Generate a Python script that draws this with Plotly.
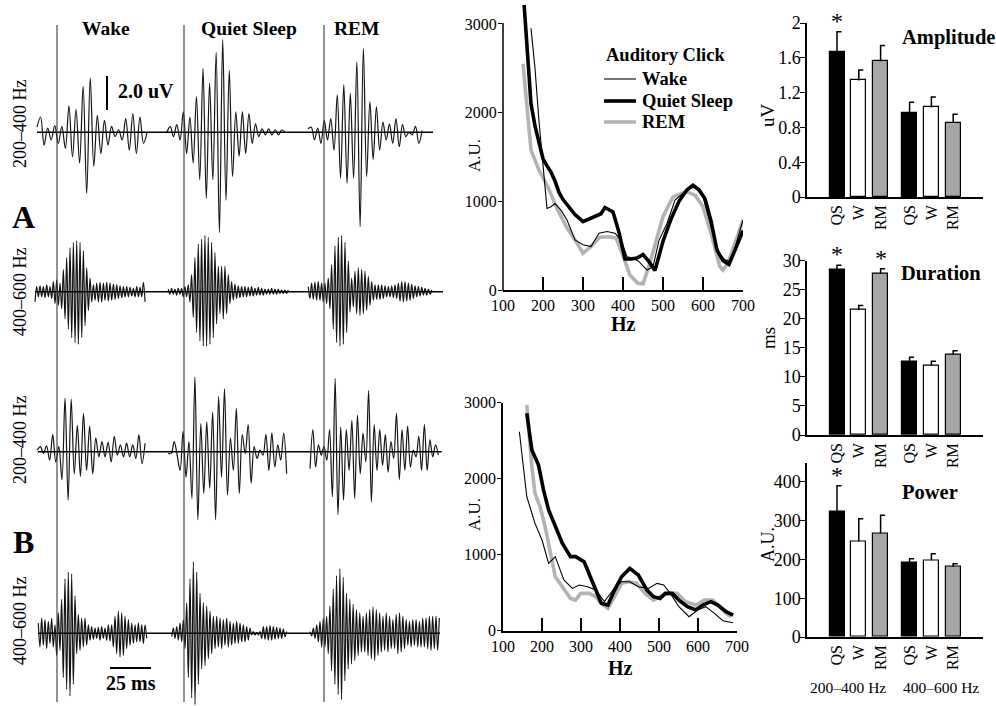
import numpy as np
import plotly.graph_objects as go

W, H = 996, 706
SERIF = "Liberation Serif"
INK = "#141414"
GRAY_LINE = "#b3b3b3"
GRAY_BAR = "#a6a6a6"


def fx(p):
    """horizontal pixel -> paper fraction"""
    return p / W


def fy(p):
    """vertical pixel -> paper fraction"""
    return 1 - p / H


# ---------------------------------------------------------------------------
# Click-evoked oscillations: successive extrema (uV), evenly spaced in each
# recording window.  Windows are in ms relative to click onset.
# ---------------------------------------------------------------------------
STATES = ["Wake", "Quiet Sleep", "REM"]
ROW_BANDS = ["200–400 Hz", "400–600 Hz", "200–400 Hz", "400–600 Hz"]

A_LOW_WAKE = [0.3, 0.9, -0.75, 0.25, -0.45, 0.4, -0.65, 0.35, -0.95, 1.55, -1.45, 1.35,
              -1.8, 2.7, -3.6, 3.2, -2.0, 1.0, -1.25, 0.7, -0.75, 0.35, -0.25, 0.15,
              -0.45, 0.8, -1.05, 1.1, -1.25, 0.9, -0.65, 0.0]
A_LOW_QS = [0.0, 0.35, -0.25, 0.45, -0.45, 1.2, -1.25, 0.9, -1.8, 2.1, -2.8, 3.75, -3.9,
            2.9, -2.8, 4.7, -5.9, 5.45, -4.0, 3.65, -2.6, 1.2, -1.4, 1.2, -1.25, 1.1,
            -0.65, 0.5, -0.25, 0.2, -0.15, 0.2, -0.15, 0.15, -0.15, 0.15, 0.0]
A_LOW_REM = [0.2, 0.3, -0.45, 0.25, -0.65, 0.7, -0.45, 0.8, -1.05, 2.2, -2.7, 2.8, -3.0,
             2.3, -2.7, 4.15, -5.55, 4.95, -2.6, 1.8, -1.6, 1.5, -1.05, 0.6, -0.45, 0.5,
             -0.65, 0.8, -0.85, 0.45, -0.25, 0.0, -0.15, 0.35, -0.65, 0.1]

A_HIGH_WAKE = [-0.6, 0.3, -0.3, 0.35, -0.3, 0.3, -0.35, 0.4, -0.3, 0.3, -0.4, 0.6, -0.7,
               0.7, -0.8, 0.5,
               -1.0, 1.3, -1.6, 2.0, -2.2, 2.6, -2.7, 2.9, -3.0, 3.0, -3.1, 2.9, -2.7, 2.4,
               -2.0, 1.4,
               -1.1, 0.8, -0.6, 0.4,
               -0.5, 0.5, -0.6, 0.55, -0.6, 0.5, -0.5, 0.55, -0.55, 0.5, -0.5, 0.45, -0.45,
               0.4, -0.4,
               0.35, -0.35, 0.3, -0.3, 0.3, -0.3, 0.25, -0.25, 0.2, -0.3, 0.3, -0.3, 0.25,
               -0.3, 0.55, -0.6]
A_HIGH_QS = [0.15, -0.15, 0.2, -0.15, 0.15, -0.2, 0.2, -0.15, 0.2, -0.3,
             0.3, -0.3, 0.4, -0.6,
             1.0, -1.5, 2.0, -2.4, 2.8, -2.9, 3.1, -3.2, 3.3, -3.2, 3.2, -3.1, 2.9, -2.7,
             2.3, -1.9, 1.5,
             -1.3, 1.5, -1.6, 1.5, -1.3, 1.0, -0.7,
             0.6, -0.5, 0.45, -0.4, 0.35, -0.35, 0.3, -0.3, 0.3, -0.3, 0.25, -0.25, 0.3,
             -0.25, 0.2, -0.2, 0.25, -0.2, 0.2, -0.2, 0.15, -0.15, 0.15, -0.15, 0.2, -0.15,
             0.15, -0.15, 0.15, -0.1, 0.1, -0.1, 0.1, -0.1, 0.1]
A_HIGH_REM = [0.3, -0.4, 0.5, -0.45, 0.55, -0.5, 0.6, -0.5, 0.5, -0.6,
              0.5, -0.7, 0.8, -1.0,
              1.6, -2.2, 2.7, -3.0, 3.2, -3.2, 3.3, -3.1, 2.9, -2.4, 1.8, -1.2, 0.8,
              -0.9, 1.2, -1.3, 1.4, -1.4, 1.3, -1.3, 1.2, -1.1, 0.9, -0.8, 0.6, -0.5, 0.4,
              -0.45, 0.4, -0.45, 0.4, -0.4, 0.35, -0.3, 0.3, -0.3, 0.35, -0.35, 0.4, -0.4,
              0.5, -0.55, 0.6, -0.6, 0.6, -0.55, 0.5, -0.5, 0.45, -0.4, 0.35,
              -0.3, 0.3, -0.25, 0.25, -0.2, 0.2, -0.2, 0.15, -0.15, 0.1]

B_LOW_WAKE = [0.1, 0.3, -0.1, 0.35, -0.5, 1.0, -0.6, 0.3, -1.65, 3.15, -2.85, 3.1, -1.3,
              1.55, -1.45, 2.25, -1.1, 1.5, -1.3, 0.8, -0.3, 0.6, -0.3, 0.55, -0.6, 0.9,
              -0.2, 0.4, -0.3, 0.5, -0.3, 0.4, -0.4, 1.0, -0.7, 0.5]
B_LOW_QS = [-0.1, -0.1, 0.6, -0.2, -1.1, 1.2, -1.5, 0.6, -2.75, 4.4, -4.0, 1.65, -2.45,
            1.75, -2.15, 2.35, -4.0, 3.25, -1.5, 3.7, -2.55, 0.8, -1.1, 2.55, -2.45, 1.0,
            -0.1, 1.6, -1.85, 0.3, -0.4, 0.1, -0.2, 1.0, -1.1, 1.1, -0.9, 0.4, -0.5, 1.1,
            -1.3]
B_LOW_REM = [-1.0, 1.3, -0.9, 0.4, -0.2, 0.3, -0.5, 1.3, -2.65, 4.3, -3.7, 1.45, -2.85,
             1.3, -1.1, 1.85, -2.75, 2.15, -1.3, 1.1, -0.6, 3.6, -2.95, 1.6, -1.1, 1.3,
             -0.8, 1.0, -1.2, 0.6, -0.4, 2.25, -1.65, 1.3, -1.1, 1.5, -0.9, 0.1, -0.3, 0.9,
             -1.1, 1.6, -1.1, 0.7, -0.3, 0.4, -0.2]

B_HIGH_WAKE = [0.6, -0.8, 0.9, -0.7, 0.8, -0.9, 0.7, -0.6, 0.9, -0.8, 0.5,
               -1.3, 1.2, -1.0,
               2.0, -2.6, 3.2, -3.3, 3.6, -3.7, 3.5, -3.0, 2.2,
               -1.2, 1.1, -1.0, 0.9, -0.8, 0.9, -0.7,
               0.5, -0.4, 0.4, -0.35, 0.3, -0.3, 0.35, -0.4, 0.4, -0.3, 0.3, -0.4, 0.5,
               -0.45, 0.5,
               -0.8, 1.0, -1.2, 1.3, -1.4, 1.2, -1.3, 1.0, -0.9, 0.8, -0.7,
               0.6, -0.6, 0.5, -0.5, 0.6, -0.5, 0.5, -0.6, 0.5, -0.3]
B_HIGH_QS = [-0.2, 0.3, -0.3, 0.4, -0.4, 0.6, -0.5, 0.8, -0.9,
             1.8, -2.6, 3.2, -3.8, 4.2, -4.2, 3.6, -3.0,
             2.35, -2.1, 1.8, -1.9, 1.6, -1.5, 1.3, -1.2,
             1.0, -0.9, 1.0, -0.8, 0.9, -0.9, 0.8, -0.7, 0.9, -0.8, 0.7, -0.7, 0.6, -0.6,
             0.7,
             -0.6, 0.6, -0.5, 0.5, -0.5, 0.4, -0.4, 0.3,
             -0.1, 0.1, -0.1, 0.05, -0.1, 0.1,
             -0.3, 0.4, -0.35, 0.4, -0.4, 0.45, -0.4, 0.4, -0.35, 0.35, -0.3, 0.3, -0.3,
             0.25, -0.2, 0.1]
B_HIGH_REM = [0.1, -0.15, 0.3, -0.3, 0.5, -0.5, 0.7, -0.8, 0.9, -0.8, 1.0, -1.2,
              1.6, -2.2, 2.6, -3.0, 3.4, -3.6, 3.8, -3.9, 3.3, -2.8,
              2.35, -2.1, 2.0, -1.8, 1.7, -1.6, 1.4, -1.3, 1.2, -1.1,
              1.0, -1.1, 1.2, -1.3, 1.4, -1.5, 1.55, -1.6, 1.4, -1.3, 1.2, -1.1, 1.0, -1.0,
              1.2, -1.1, 1.0, -0.9, 0.8,
              -0.9, 1.1, -1.2, 1.2, -1.1, 1.0, -0.9, 0.8,
              -0.7, 0.7, -0.8, 0.8, -0.7, 0.8, -0.8, 0.7, -0.8, 0.9, -0.8, 0.9, -0.9, 1.0,
              -1.0, 1.0, -0.9, 1.0, -1.0, 0.9]

ROW_TRACES = [
    [A_LOW_WAKE, A_LOW_QS, A_LOW_REM],
    [A_HIGH_WAKE, A_HIGH_QS, A_HIGH_REM],
    [B_LOW_WAKE, B_LOW_QS, B_LOW_REM],
    [B_HIGH_WAKE, B_HIGH_QS, B_HIGH_REM],
]
ROW_WINDOWS = [
    [(-12.2, 54.9), (-10.4, 61.6), (-9.8, 59.8)],
    [(-13.4, 53.7), (-9.6, 63.6), (-9.6, 65.7)],
    [(-12.0, 53.7), (-9.6, 62.6), (-8.5, 69.7)],
    [(-11.4, 54.7), (-7.5, 62.6), (-8.5, 70.3)],
]

# ---------------------------------------------------------------------------
# Power spectra (A.U.) of the click response
# ---------------------------------------------------------------------------
A_WAKE_HZ = [170, 180, 190, 200, 210, 220, 230, 245, 260, 280, 300, 320, 340, 360, 380,
             395, 410, 425, 440, 460, 475, 490, 510, 530, 560, 580, 600, 620, 640, 655,
             670, 700]
A_WAKE_PWR = [2950, 2500, 1900, 1400, 920, 940, 975, 900, 790, 565, 510, 490, 640, 660,
              640, 560, 375, 360, 320, 225, 260, 560, 750, 1015, 1130, 1165, 1050, 720,
              410, 340, 320, 790]
A_QS_HZ = [150, 160, 170, 180, 190, 200, 210, 220, 230, 240, 250, 265, 280, 300, 315, 330,
           345, 355, 375, 390, 405, 420, 435, 450, 465, 480, 500, 520, 540, 560, 575, 590,
           605, 620, 635, 650, 665, 680, 700]
A_QS_PWR = [3400, 2700, 2100, 1850, 1650, 1480, 1400, 1330, 1230, 1100, 1020, 930, 850,
            770, 800, 820, 860, 930, 880, 650, 350, 350, 360, 400, 320, 220, 550, 800,
            1000, 1130, 1180, 1130, 1030, 780, 450, 330, 290, 450, 670]
A_REM_HZ = [150, 170, 190, 212, 233, 258, 280, 300, 320, 342, 363, 383, 404, 417, 437,
            450, 467, 483, 500, 525, 558, 580, 600, 620, 642, 650, 662, 683, 700]
A_REM_PWR = [2550, 1580, 1350, 1165, 940, 715, 565, 415, 490, 595, 600, 585, 340, 170,
             75, 70, 300, 565, 830, 1050, 1110, 1070, 940, 640, 265, 225, 300, 565, 790]

B_WAKE_HZ = [142, 161, 182, 200, 217, 234, 256, 278, 295, 317, 338, 360, 382, 404, 425,
             447, 473, 495, 512, 529, 551, 577, 599, 620, 642, 664, 690]
B_WAKE_PWR = [2618, 1763, 1412, 1193, 886, 974, 667, 557, 601, 579, 535, 382, 535, 645,
              645, 579, 557, 623, 601, 491, 316, 184, 272, 316, 228, 132, 105]
B_QS_HZ = [161, 174, 191, 204, 217, 234, 252, 273, 286, 308, 321, 338, 352, 369, 386, 404,
           425, 447, 469, 486, 503, 516, 534, 551, 573, 594, 612, 633, 651, 672, 690]
B_QS_PWR = [2860, 2377, 2180, 1850, 1588, 1368, 1150, 975, 975, 908, 755, 535, 360, 338,
            535, 710, 820, 732, 535, 447, 425, 491, 491, 403, 316, 272, 338, 382, 338, 250,
            206]
B_REM_HZ = [161, 174, 182, 195, 208, 221, 234, 252, 273, 286, 299, 321, 338, 352, 369,
            386, 404, 421, 443, 464, 486, 503, 525, 547, 568, 594, 616, 638, 655, 672, 685]
B_REM_PWR = [2970, 2158, 1807, 1632, 1368, 1018, 710, 579, 425, 403, 491, 491, 447, 360,
             294, 447, 623, 645, 623, 491, 403, 447, 491, 491, 382, 338, 403, 403, 316, 228,
             184]

FREQ_TICKS = [100, 200, 300, 400, 500, 600, 700]
LEGEND_TITLE = "Auditory Click"

# ---------------------------------------------------------------------------
# Group statistics (mean and SEM) for QS / W / RM in each band
# ---------------------------------------------------------------------------
BAR_CATS = ["QS", "W", "RM", "QS", "W", "RM"]
BAND_LABELS = ["200–400 Hz", "400–600 Hz"]
AMP_MEAN = [1.67, 1.34, 1.56, 0.96, 1.03, 0.85]
AMP_SEM = [0.23, 0.12, 0.18, 0.13, 0.12, 0.10]
DUR_MEAN = [28.4, 21.5, 27.8, 12.7, 12.0, 13.9]
DUR_SEM = [0.8, 0.8, 0.8, 0.7, 0.7, 0.6]
POW_MEAN = [323, 247, 268, 191, 198, 181]
POW_SEM = [67, 58, 46, 11, 17, 8]
AMP_SIG = [0]
DUR_SIG = [0, 2]
POW_SIG = [0]

# ---------------------------------------------------------------------------
fig = go.Figure()

# --- left block: one shared axis in ms / uV -------------------------------
MS_PX = 1.64      # pixels per ms
UV_PX = 17.0      # pixels per uV
CLICK_PX = [57, 184, 324]
BASE_PX = [132.3, 291.7, 451.7, 633.3]
COL_OFF = [(p - CLICK_PX[0]) / MS_PX for p in CLICK_PX]
ROW_OFF = [(BASE_PX[0] - p) / UV_PX for p in BASE_PX]
LEFT_W = 460
left_xrange = [-CLICK_PX[0] / MS_PX, (LEFT_W - CLICK_PX[0]) / MS_PX]
left_yrange = [-(H - BASE_PX[0]) / UV_PX, BASE_PX[0] / UV_PX]

for r, row in enumerate(ROW_TRACES):
    for c, vals in enumerate(row):
        t0, t1 = ROW_WINDOWS[r][c]
        t = np.linspace(t0, t1, len(vals)) + COL_OFF[c]
        v = np.array(vals) + ROW_OFF[r]
        fig.add_trace(go.Scatter(
            x=t, y=v, mode="lines", xaxis="x", yaxis="y",
            line=dict(color=INK, width=1.2, shape="spline", smoothing=1.0),
            showlegend=False, hoverinfo="skip"))

shapes = []
# baselines for each row
BASE_SPAN_PX = [(37, 433), (35, 443), (37.7, 441.7), (38.3, 440)]
for r, (a, b) in enumerate(BASE_SPAN_PX):
    shapes.append(dict(type="line", xref="x", yref="y",
                       x0=(a - CLICK_PX[0]) / MS_PX, x1=(b - CLICK_PX[0]) / MS_PX,
                       y0=ROW_OFF[r], y1=ROW_OFF[r],
                       line=dict(color="black", width=1.4)))
# click-onset markers
for c in range(3):
    shapes.append(dict(type="line", xref="x", yref="y",
                       x0=COL_OFF[c], x1=COL_OFF[c],
                       y0=(BASE_PX[0] - 25) / UV_PX, y1=(BASE_PX[0] - 702) / UV_PX,
                       line=dict(color="#3a3a3a", width=1.1)))
# calibration bars: 2.0 uV and 25 ms
UV_BAR = 2.0
MS_BAR = 25
uv_x = (107 - CLICK_PX[0]) / MS_PX
uv_y0 = (BASE_PX[0] - 110) / UV_PX
shapes.append(dict(type="line", xref="x", yref="y", x0=uv_x, x1=uv_x,
                   y0=uv_y0, y1=uv_y0 + UV_BAR, line=dict(color="black", width=2)))
ms_x0 = (110 - CLICK_PX[0]) / MS_PX
ms_y = (BASE_PX[0] - 668) / UV_PX
shapes.append(dict(type="line", xref="x", yref="y", x0=ms_x0, x1=ms_x0 + MS_BAR,
                   y0=ms_y, y1=ms_y, line=dict(color="black", width=2)))

# --- spectra --------------------------------------------------------------
spec_sets = [
    ("x2", "y2", [(A_WAKE_HZ, A_WAKE_PWR), (A_QS_HZ, A_QS_PWR), (A_REM_HZ, A_REM_PWR)]),
    ("x3", "y3", [(B_WAKE_HZ, B_WAKE_PWR), (B_QS_HZ, B_QS_PWR), (B_REM_HZ, B_REM_PWR)]),
]
spec_styles = [("Wake", "black", 1.1), ("Quiet Sleep", "black", 3.6), ("REM", GRAY_LINE, 3.6)]
for xa, ya, series in spec_sets:
    # REM underneath, then QS, then Wake on top
    for idx in [2, 1, 0]:
        hz, pwr = series[idx]
        name, col, lw = spec_styles[idx]
        fig.add_trace(go.Scatter(
            x=hz, y=pwr, mode="lines", name=name, xaxis=xa, yaxis=ya,
            line=dict(color=col, width=lw), showlegend=False, hoverinfo="skip"))

# y-axis line of the upper spectrum stops at 3000
shapes.append(dict(type="line", xref="paper", yref="paper", x0=fx(503), x1=fx(503),
                   y0=fy(290.7), y1=fy(23), line=dict(color="black", width=1.5)))

annotations = []

# key for the spectra
LEG_X0, LEG_X1, LEG_TXT = 604, 636, 640
for (name, col, lw), yc in zip(spec_styles, [79, 101, 122]):
    shapes.append(dict(type="line", xref="paper", yref="paper",
                       x0=fx(LEG_X0), x1=fx(LEG_X1), y0=fy(yc), y1=fy(yc),
                       line=dict(color=col, width=lw)))
    annotations.append(dict(xref="paper", yref="paper", x=fx(LEG_TXT), y=fy(yc),
                            text=name, showarrow=False, xanchor="left", yanchor="middle",
                            font=dict(family=SERIF, size=18.5, color="black",
                                      weight="bold")))
annotations.append(dict(xref="paper", yref="paper", x=fx(604), y=fy(55), text=LEGEND_TITLE,
                        showarrow=False, xanchor="left", yanchor="middle",
                        font=dict(family=SERIF, size=18.5, color="black", weight="bold")))

# --- bar panels ------------------------------------------------------------
GROUP_GAP = 3.33
BAR_POS = [g * GROUP_GAP + i for g in range(2) for i in range(3)]
BAR_FILL = ["#000000", "#ffffff", GRAY_BAR] * 2
BAR_UNIT_PX = 21.8
CAP = 4.5 / BAR_UNIT_PX

bar_sets = [("x4", "y4", AMP_MEAN, AMP_SEM, AMP_SIG),
            ("x5", "y5", DUR_MEAN, DUR_SEM, DUR_SIG),
            ("x6", "y6", POW_MEAN, POW_SEM, POW_SIG)]
for xa, ya, mean, sem, sig in bar_sets:
    fig.add_trace(go.Bar(x=BAR_POS, y=mean, width=15 / BAR_UNIT_PX, xaxis=xa, yaxis=ya,
                         marker=dict(color=BAR_FILL, line=dict(color="black", width=1.2)),
                         showlegend=False, hoverinfo="skip"))
    ex, ey = [], []
    for p, m, s in zip(BAR_POS, mean, sem):
        ex += [p, p, p + CAP, None]
        ey += [m, m + s, m + s, None]
    fig.add_trace(go.Scatter(x=ex, y=ey, mode="lines", xaxis=xa, yaxis=ya,
                             line=dict(color="black", width=1.5),
                             showlegend=False, hoverinfo="skip"))
    for k in sig:
        annotations.append(dict(xref=xa, yref=ya, x=BAR_POS[k], y=mean[k] + sem[k],
                                text="*", showarrow=False, yanchor="bottom", yshift=-4,
                                font=dict(family=SERIF, size=24, color="black")))


def label(x, y, text, size, bold=False, angle=0, xanchor="center"):
    annotations.append(dict(xref="paper", yref="paper", x=fx(x), y=fy(y), text=text,
                            showarrow=False, textangle=angle, xanchor=xanchor,
                            yanchor="middle",
                            font=dict(family=SERIF, size=size, color="black",
                                      weight="bold" if bold else "normal")))


# state titles
for name, xc in zip(STATES, [106, 249, 357]):
    label(xc, 28, name, 19.5, bold=True)
label(116, 91, f"{UV_BAR:.1f} uV", 20, bold=True, xanchor="left")
label(131, 683, f"{MS_BAR} ms", 20, bold=True)
label(23, 217, "A", 32, bold=True)
label(23, 542, "B", 32, bold=True)
for band, yc in zip(ROW_BANDS, [124, 292, 440, 621]):
    label(20, yc, band, 18, angle=-90)

# spectra axis titles
label(474, 156, "A.U.", 17, angle=-90)
label(474, 515, "A.U.", 17, angle=-90)
label(623, 324, "Hz", 20, bold=True)
label(620, 668, "Hz", 20, bold=True)

# bar-panel titles
label(768, 115, "uV", 19, angle=-90)
label(768, 338, "ms", 19, angle=-90)
label(768, 545, "A.U.", 18, angle=-90)
label(948, 38, "Amplitude", 20.5, bold=True)
label(941, 273, "Duration", 20.5, bold=True)
label(930, 492, "Power", 20.5, bold=True)
label(848, 687, BAND_LABELS[0], 15.5)
label(941, 687, BAND_LABELS[1], 15.5)

# ---------------------------------------------------------------------------
axis_font = dict(family=SERIF, size=16, color="black")
bar_tick_font = dict(family=SERIF, size=18, color="black")

spec_x = dict(range=[100, 700], tickvals=FREQ_TICKS, showline=True, linecolor="black",
              linewidth=1.5, ticks="inside", ticklen=13, tickwidth=1.5, tickcolor="black",
              tickfont=axis_font, showgrid=False, zeroline=False)
spec_y = dict(tickvals=[0, 1000, 2000, 3000], ticks="outside", ticklen=4, tickwidth=1.3,
              tickcolor="black", tickfont=axis_font, showgrid=False, zeroline=False,
              ticklabelstandoff=-2)

bar_x = dict(range=[(807 - 837) / BAR_UNIT_PX, (983 - 837) / BAR_UNIT_PX],
             tickvals=BAR_POS, ticktext=BAR_CATS, tickangle=-90, ticks="",
             tickfont=dict(family=SERIF, size=16, color="black"),
             showline=True, linecolor="black", linewidth=1.5, showgrid=False,
             zeroline=False, domain=[fx(807), fx(983)])
bar_y = dict(showline=True, linecolor="black", linewidth=1.5, ticks="outside", ticklen=5,
             tickwidth=1.3, tickcolor="black", tickfont=bar_tick_font, showgrid=False,
             zeroline=False, ticklabelstandoff=-4)

fig.update_layout(
    width=W, height=H,
    margin=dict(l=0, r=0, t=0, b=0, pad=0, autoexpand=False),
    paper_bgcolor="white", plot_bgcolor="rgba(0,0,0,0)",
    font=dict(family=SERIF, color="black"),
    showlegend=False,
    bargap=0,
    xaxis=dict(domain=[0, fx(LEFT_W)], range=left_xrange, visible=False, anchor="y"),
    yaxis=dict(domain=[0, 1], range=left_yrange, visible=False, anchor="x"),
    xaxis2=dict(domain=[fx(503), fx(743)], anchor="y2", **spec_x),
    yaxis2=dict(domain=[fy(290), fy(5)], range=[0, 3214], anchor="x2", showline=False,
                **spec_y),
    xaxis3=dict(domain=[fx(503), fx(737)], anchor="y3", **spec_x),
    yaxis3=dict(domain=[fy(630.7), fy(402.7)], range=[0, 3000], anchor="x3",
                showline=True, linecolor="black", linewidth=1.5, **spec_y),
    xaxis4=dict(anchor="y4", **bar_x),
    yaxis4=dict(domain=[fy(197), fy(23)], range=[0, 2], anchor="x4",
                tickvals=[0, 0.4, 0.8, 1.2, 1.6, 2],
                ticktext=["0", "0.4", "0.8", "1.2", "1.6", "2"], **bar_y),
    xaxis5=dict(anchor="y5", **bar_x),
    yaxis5=dict(domain=[fy(435), fy(260.7)], range=[0, 30], anchor="x5",
                tickvals=[0, 5, 10, 15, 20, 25, 30], **bar_y),
    xaxis6=dict(anchor="y6", **bar_x),
    yaxis6=dict(domain=[fy(637), fy(462.6)], range=[0, 450], anchor="x6",
                tickvals=[0, 100, 200, 300, 400], **bar_y),
    shapes=shapes,
    annotations=annotations,
)

fig.write_html("out.html")
